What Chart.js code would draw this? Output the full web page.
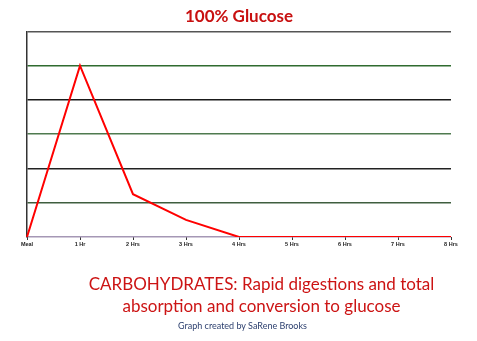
<!DOCTYPE html>
<html>
<head>
<meta charset="utf-8">
<script src="https://cdn.jsdelivr.net/npm/chart.js@4"></script>
<style>
  body { margin: 0; background: #fff; }
  #wrap { position: relative; width: 477px; height: 341px; }
  #glucose { position: absolute; left: 0; top: 0; }
  .note { position: absolute; width: 477px; text-align: center; font-family: Lato, sans-serif; }
  #caption { left: 23px; top: 273px; color: #cc1414; font-size: 17px; line-height: 22px; }
  #credit { left: 4px; top: 320px; color: #2c3f6e; font-size: 9px; }
</style>
</head>
<body>
<div id="wrap">
  <canvas id="glucose" width="477" height="341"></canvas>
  <div class="note" id="caption">CARBOHYDRATES: Rapid digestions and total<br>absorption and conversion to glucose</div>
  <div class="note" id="credit">Graph created by SaRene Brooks</div>
</div>
<script>
var hours = ['Meal', '1 Hr', '2 Hrs', '3 Hrs', '4 Hrs', '5 Hrs', '6 Hrs', '7 Hrs', '8 Hrs'];
var glucose = [0, 5, 1.25, 0.5, 0, 0, 0, 0, 0];
var gridColors = ['#a597b5', '#3f5e3f', '#222222', '#4f7a4f', '#1a1a1a', '#2f6b2f', '#555555'];

var chart = new Chart(document.getElementById('glucose'), {
	type: 'line',
	data: {
		labels: hours,
		datasets: [
			{
			label: '100% Glucose',
			data: glucose,
			borderColor: '#ff0000',
			borderWidth: 2,
			pointRadius: 0,
			tension: 0
			}
		]
	},
	options: {
		responsive: false,
		animation: false,
		layout: { padding: { left: 27, right: 26 } },
		plugins: {
			legend: { display: false },
			tooltip: { enabled: false },
			title: {
				display: true,
				text: '100% Glucose',
				color: '#c81010',
				font: { family: 'Lato', size: 17, weight: 'bold' },
				padding: { top: 6, bottom: 5 }
			}
		},
		scales: {
			x: {
				offset: false,
				grid: { drawOnChartArea: false, drawTicks: true, tickLength: 3, color: '#333' },
				border: { display: false },
				ticks: { color: '#222', font: { family: 'Arial', size: 5.5, weight: 'bold' }, padding: 1, maxRotation: 0, autoSkip: false },
				afterFit: function(scale) { scale.height = 104; }
			},
			y: {
				min: 0,
				max: 6,
				ticks: { display: false, stepSize: 1 },
				grid: {
					drawTicks: false,
					lineWidth: 1.5,
					color: function(ctx) { return gridColors[ctx.index] || '#444'; }
				},
				border: { color: '#333', width: 1.5 },
				afterFit: function(scale) { scale.width = 0; }
			}
		}
	}
});
</script>
</body>
</html>
